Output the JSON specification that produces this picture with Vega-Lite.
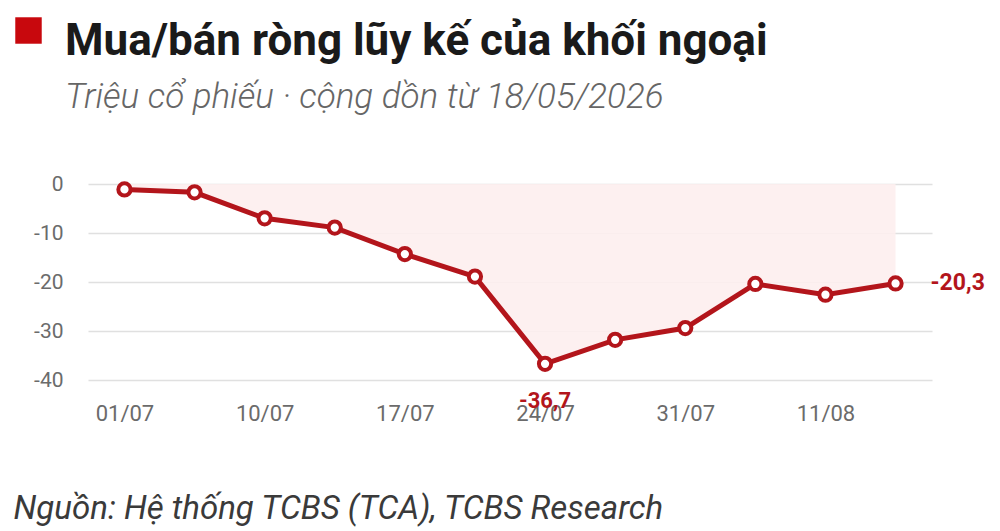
{
  "$schema": "https://vega.github.io/schema/vega-lite/v6.json",
  "width": 844,
  "height": 196,
  "autosize": {"type": "none"},
  "padding": {"left": 88, "top": 184, "right": 68, "bottom": 151},
  "background": "white",
  "title": {
    "text": "Mua/bán ròng lũy kế của khối ngoại",
    "subtitle": "Triệu cổ phiếu · cộng dồn từ 18/05/2026",
    "anchor": "start",
    "frame": "group",
    "dx": -23,
    "offset": -98,
    "font": "Roboto",
    "fontSize": 44,
    "fontWeight": "bold",
    "color": "#1a1a1a",
    "subtitleFont": "Roboto",
    "subtitleFontSize": 35,
    "subtitleFontStyle": "italic",
    "subtitleFontWeight": 300,
    "subtitleColor": "#666666",
    "subtitlePadding": 16
  },
  "config": {
    "view": {"stroke": null},
    "locale": {
      "number": {"decimal": ",", "thousands": ".", "grouping": [3], "currency": ["", " đ"], "minus": "-"}
    }
  },
  "data": {
    "values": [
      {"ngay": "01/07", "gia_tri": -1.1},
      {"ngay": "07/07", "gia_tri": -1.7},
      {"ngay": "10/07", "gia_tri": -7.0},
      {"ngay": "14/07", "gia_tri": -8.9},
      {"ngay": "17/07", "gia_tri": -14.3},
      {"ngay": "21/07", "gia_tri": -18.9},
      {"ngay": "24/07", "gia_tri": -36.7},
      {"ngay": "28/07", "gia_tri": -31.8},
      {"ngay": "31/07", "gia_tri": -29.4},
      {"ngay": "06/08", "gia_tri": -20.4},
      {"ngay": "11/08", "gia_tri": -22.6},
      {"ngay": "14/08", "gia_tri": -20.3}
    ]
  },
  "encoding": {
    "x": {
      "field": "ngay",
      "type": "ordinal",
      "sort": null,
      "scale": {"type": "point", "padding": 0.52},
      "axis": {
        "values": ["01/07", "10/07", "17/07", "24/07", "31/07", "11/08"],
        "labelAngle": 0,
        "labelFont": "Roboto",
        "labelFontSize": 22,
        "labelColor": "#6b6b6b",
        "labelPadding": 23,
        "ticks": false,
        "domain": false,
        "grid": false,
        "title": "Nguồn: Hệ thống TCBS (TCA), TCBS Research",
        "titleFont": "Roboto",
        "titleFontSize": 33,
        "titleFontStyle": "italic",
        "titleFontWeight": "normal",
        "titleColor": "#3a3a3a",
        "titleAnchor": "start",
        "titleAlign": "left",
        "titleBaseline": "alphabetic",
        "titleX": -75,
        "titleY": 138
      }
    },
    "y": {
      "field": "gia_tri",
      "type": "quantitative",
      "scale": {"domain": [-40, 0], "nice": false},
      "axis": {
        "values": [0, -10, -20, -30, -40],
        "labelFont": "Roboto",
        "labelFontSize": 21,
        "labelColor": "#6b6b6b",
        "labelPadding": 25,
        "ticks": false,
        "domain": false,
        "gridColor": "#e0e0e0",
        "gridWidth": 1.5,
        "title": null
      }
    }
  },
  "layer": [
    {
      "mark": {"type": "area", "color": "#fdeeee", "opacity": 0.9},
      "encoding": {"y2": {"datum": 0}}
    },
    {
      "mark": {"type": "line", "strokeWidth": 5},
      "encoding": {
        "color": {
          "datum": "Mua/bán ròng lũy kế",
          "scale": {"range": ["#b3151b"]},
          "legend": {
            "orient": "none",
            "legendX": -73,
            "legendY": -167,
            "symbolType": "square",
            "symbolSize": 700,
            "symbolFillColor": "#c8080d",
            "symbolStrokeColor": "#c8080d",
            "symbolStrokeWidth": 0,
            "labelExpr": "''",
            "title": null,
            "padding": 0
          }
        }
      }
    },
    {
      "mark": {"type": "point", "filled": true, "fill": "white", "stroke": "#b3151b", "strokeWidth": 4, "size": 150, "opacity": 1}
    },
    {
      "transform": [{"filter": "datum.ngay == '24/07'"}],
      "mark": {"type": "text", "font": "Roboto", "fontSize": 22, "fontWeight": "bold", "color": "#b3151b", "baseline": "middle", "align": "center", "dy": 37},
      "encoding": {"text": {"field": "gia_tri", "type": "quantitative", "format": ".1f"}}
    },
    {
      "transform": [{"filter": "datum.ngay == '14/08'"}],
      "mark": {"type": "text", "font": "Roboto", "fontSize": 23, "fontWeight": "bold", "color": "#b3151b", "baseline": "middle", "align": "left", "dx": 35},
      "encoding": {"text": {"field": "gia_tri", "type": "quantitative", "format": ".1f"}}
    }
  ]
}
